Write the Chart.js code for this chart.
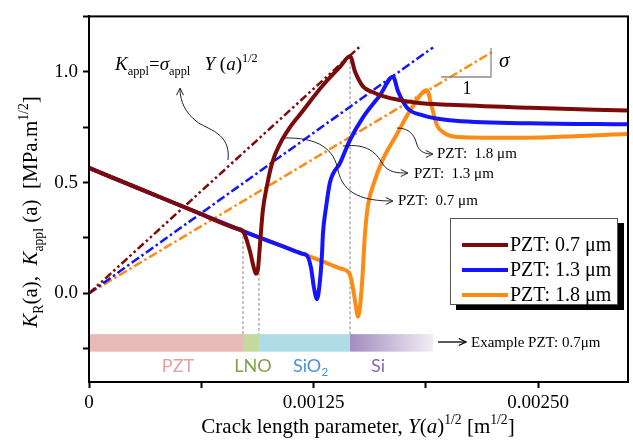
<!DOCTYPE html>
<html>
<head>
<meta charset="utf-8">
<script src="https://cdn.jsdelivr.net/npm/chart.js@4.4.0/dist/chart.umd.min.js"></script>
<style>
  body { margin: 0; background: #fff; }
  #wrap { width: 633px; height: 445px; }
</style>
</head>
<body>
<div id="wrap"><canvas id="crackChart" width="633" height="445"></canvas></div>
<script>
// K_R curves (x in m^1/2, y in MPa.m^1/2)
const redX = [0, 0.0003, 0.0006, 0.00082, 0.000857, 0.000896, 0.000918, 0.000930, 0.000941, 0.000952, 0.000968, 0.000991, 0.001019, 0.001063, 0.001119, 0.001174, 0.001302, 0.001397, 0.001453, 0.001481, 0.001525, 0.001581, 0.001636, 0.001826, 0.002009, 0.002455, 0.003];
const redY = [0.566, 0.466, 0.366, 0.293, 0.281, 0.189, 0.114, 0.088, 0.114, 0.224, 0.377, 0.487, 0.588, 0.675, 0.750, 0.807, 0.939, 1.022, 1.070, 1.000, 0.934, 0.908, 0.890, 0.860, 0.851, 0.838, 0.825];

const blueX = [0, 0.0003, 0.0006, 0.00082, 0.000857, 0.00095, 0.00105, 0.00115, 0.00119, 0.001213, 0.001236, 0.001252, 0.001269, 0.001286, 0.001297, 0.001302, 0.001319, 0.001341, 0.001397, 0.001453, 0.001525, 0.001620, 0.001692, 0.001720, 0.001770, 0.001859, 0.002009, 0.002455, 0.003];
const blueY = [0.566, 0.466, 0.366, 0.293, 0.281, 0.252, 0.221, 0.190, 0.178, 0.171, 0.114, 0.026, -0.026, 0.061, 0.180, 0.268, 0.386, 0.500, 0.588, 0.693, 0.794, 0.895, 0.978, 0.912, 0.838, 0.803, 0.781, 0.768, 0.763];

const orangeX = [0, 0.0003, 0.0006, 0.00082, 0.000857, 0.00095, 0.00105, 0.00115, 0.001213, 0.0013, 0.0014, 0.001436, 0.001453, 0.001469, 0.001486, 0.001497, 0.001508, 0.001520, 0.001536, 0.001553, 0.001581, 0.001636, 0.001714, 0.001787, 0.001881, 0.001909, 0.001937, 0.001970, 0.002048, 0.002399, 0.003];
const orangeY = [0.566, 0.466, 0.366, 0.293, 0.281, 0.252, 0.221, 0.190, 0.171, 0.144, 0.112, 0.101, 0.083, 0.026, -0.061, -0.105, -0.061, 0.048, 0.268, 0.399, 0.487, 0.605, 0.719, 0.825, 0.917, 0.838, 0.759, 0.728, 0.706, 0.702, 0.719];

// K_appl straight lines (start at origin)
const redApplX = [0, 0.001508];
const redApplY = [0, 1.114];
const blueApplX = [0, 0.001915];
const blueApplY = [0, 1.110];
const orangeApplX = [0, 0.002249];
const orangeApplY = [0, 1.092];

// layer stack for the 0.7 um example
const layerNames = ['PZT', 'LNO', 'SiO2', 'Si'];
const layerEdges = [0, 0.000857, 0.000946, 0.001453, 0.001915];
const layerBand = [-0.184, -0.263];
const interfaceTops = [0.281, 0.16, 1.07];

const seriesNames = ['PZT: 0.7 μm', 'PZT: 1.3 μm', 'PZT: 1.8 μm'];
const xTicksMajor = [0, 0.00125, 0.0025];
const yTicksMajor = [0, 0.5, 1.0];

const RED = '#7d0a0a';
const BLUE = '#1414ff';
const ORANGE = '#ff8a14';
const SERIF = '"Liberation Serif", "Times New Roman", serif';

function pts(xs, ys) {
    return xs.map((x, i) => ({ x: x, y: ys[i] }));
}

const solid = (label, data, color) => ({
    label: label, data: data, borderColor: color, borderWidth: 4,
    showLine: true, pointRadius: 0, cubicInterpolationMode: 'monotone', fill: false
});
const applLine = (data, color, dash) => ({
    label: '', data: data, borderColor: color, borderWidth: 2.5, borderDash: dash,
    showLine: true, pointRadius: 0, fill: false
});

const datasets = [
    solid(seriesNames[0], pts(redX, redY), RED),
    solid(seriesNames[1], pts(blueX, blueY), BLUE),
    solid(seriesNames[2], pts(orangeX, orangeY), ORANGE),
    applLine(pts(redApplX, redApplY), RED, [8, 3, 2.5, 3, 2.5, 3]),
    applLine(pts(blueApplX, blueApplY), BLUE, [9, 3, 2.5, 3]),
    applLine(pts(orangeApplX, orangeApplY), ORANGE, [9, 3, 2.5, 3])
];
// gray dashed interface markers
interfaceTops.forEach((top, i) => {
    datasets.push({
        label: '', data: [{ x: layerEdges[i + 1], y: top }, { x: layerEdges[i + 1], y: layerBand[0] }],
        borderColor: '#8a8a8a', borderWidth: 1, borderDash: [3, 2],
        showLine: true, pointRadius: 0, order: 10
    });
});

// draws text with italic / subscript / superscript pieces
function richText(ctx, segs, x, y, size, align) {
    const fontFor = (s) => {
        const sz = (s[1].includes('b') || s[1].includes('p')) ? size * 0.65 : size;
        return (s[1].includes('i') ? 'italic ' : '') + sz + 'px ' + SERIF;
    };
    let total = 0;
    segs.forEach(s => { ctx.font = fontFor(s); total += ctx.measureText(s[0]).width; });
    let cx = align === 'center' ? x - total / 2 : x;
    ctx.textAlign = 'left';
    ctx.textBaseline = 'alphabetic';
    segs.forEach(s => {
        ctx.font = fontFor(s);
        let dy = 0;
        if (s[1].includes('b')) dy = size * 0.28;
        if (s[1].includes('p')) dy = -size * 0.42;
        ctx.fillText(s[0], cx, y + dy);
        cx += ctx.measureText(s[0]).width;
    });
}

function arrowHead(ctx, x, y, angle) {
    const len = 8, spread = 0.45;
    ctx.beginPath();
    ctx.moveTo(x - len * Math.cos(angle - spread), y - len * Math.sin(angle - spread));
    ctx.lineTo(x, y);
    ctx.lineTo(x - len * Math.cos(angle + spread), y - len * Math.sin(angle + spread));
    ctx.stroke();
}

const decorPlugin = {
    id: 'decor',
    beforeDatasetsDraw(chart) {
        const ctx = chart.ctx;
        const xs = chart.scales.x, ys = chart.scales.y;
        const yTop = ys.getPixelForValue(layerBand[0]);
        const yBot = ys.getPixelForValue(layerBand[1]);
        const fills = ['#e8b9b9', '#c6d99c', '#afdce6', null];
        ctx.save();
        for (let i = 0; i < layerNames.length; i++) {
            const x0 = xs.getPixelForValue(layerEdges[i]);
            const x1 = xs.getPixelForValue(layerEdges[i + 1]);
            if (fills[i]) {
                ctx.fillStyle = fills[i];
            } else {
                const g = ctx.createLinearGradient(x0, 0, x1, 0);
                g.addColorStop(0, '#a38cbf');
                g.addColorStop(1, '#f1edf6');
                ctx.fillStyle = g;
            }
            ctx.fillRect(x0, yTop, x1 - x0, yBot - yTop);
        }
        // layer labels
        ctx.font = '18px Lato, "Open Sans", sans-serif';
        ctx.textBaseline = 'middle';
        ctx.textAlign = 'center';
        ctx.fillStyle = '#e3a2a2';
        ctx.fillText('PZT', 178, 366);
        ctx.fillStyle = '#82a146';
        ctx.fillText('LNO', 253, 366);
        ctx.fillStyle = '#4b92dc';
        ctx.textAlign = 'left';
        ctx.fillText('SiO', 293, 366);
        const w = ctx.measureText('SiO').width;
        ctx.font = '12px Lato, "Open Sans", sans-serif';
        ctx.fillText('2', 293 + w, 372);
        ctx.font = '18px Lato, "Open Sans", sans-serif';
        ctx.textAlign = 'center';
        ctx.fillStyle = '#8a6aa8';
        ctx.fillText('Si', 378, 366);
        ctx.restore();
    },
    afterDraw(chart) {
        const ctx = chart.ctx;
        const a = chart.chartArea;
        ctx.save();
        // frame
        ctx.strokeStyle = '#000';
        ctx.lineWidth = 2;
        ctx.strokeRect(a.left, a.top, a.right - a.left, a.bottom - a.top);

        ctx.fillStyle = '#000';
        // K_appl formula
        richText(ctx, [['K', 'i'], ['appl', 'b'], ['=', ''], ['σ', 'i'], ['appl', 'b'], ['   ', ''],
            ['Y', 'i'], [' (', ''], ['a', 'i'], [')', ''], ['1/2', 'p']], 115, 70, 19, 'left');

        // curved pointers
        ctx.strokeStyle = '#222';
        ctx.lineWidth = 1;
        ctx.beginPath();
        ctx.moveTo(228, 160);
        ctx.bezierCurveTo(231, 132, 207, 130, 196, 121);
        ctx.bezierCurveTo(186, 113, 180, 102, 180, 89);
        ctx.stroke();
        arrowHead(ctx, 180, 88, -Math.PI / 2);

        ctx.beginPath();
        ctx.moveTo(283, 138);
        ctx.bezierCurveTo(320, 137, 334, 150, 338, 170);
        ctx.bezierCurveTo(343, 195, 365, 201, 392, 201);
        ctx.stroke();
        arrowHead(ctx, 393, 201, 0);

        ctx.beginPath();
        ctx.moveTo(343, 146);
        ctx.bezierCurveTo(368, 143, 377, 154, 382, 163);
        ctx.bezierCurveTo(388, 173, 398, 173, 407, 173);
        ctx.stroke();
        arrowHead(ctx, 408, 173, 0);

        ctx.beginPath();
        ctx.moveTo(397, 128);
        ctx.bezierCurveTo(411, 128, 415, 137, 417, 145);
        ctx.bezierCurveTo(420, 153, 427, 154, 432, 154);
        ctx.stroke();
        arrowHead(ctx, 433, 154, 0);

        ctx.font = '15px ' + SERIF;
        ctx.textAlign = 'left';
        ctx.textBaseline = 'middle';
        ctx.fillText('PZT:  1.8 μm', 437, 154);
        ctx.fillText('PZT:  1.3 μm', 414, 174);
        ctx.fillText('PZT:  0.7 μm', 398, 201);

        // slope triangle
        ctx.strokeStyle = '#8c8c8c';
        ctx.lineWidth = 1.3;
        ctx.beginPath();
        ctx.moveTo(441, 77);
        ctx.lineTo(491, 77);
        ctx.lineTo(491, 48);
        ctx.stroke();
        ctx.fillStyle = '#000';
        ctx.font = 'italic 21px ' + SERIF;
        ctx.fillText('σ', 499, 61);
        ctx.font = '18px ' + SERIF;
        ctx.textAlign = 'center';
        ctx.fillText('1', 467, 89);

        // example arrow
        ctx.strokeStyle = '#000';
        ctx.lineWidth = 1.3;
        ctx.beginPath();
        ctx.moveTo(438, 342);
        ctx.lineTo(465, 342);
        ctx.stroke();
        arrowHead(ctx, 466, 342, 0);
        ctx.font = '15px ' + SERIF;
        ctx.textAlign = 'left';
        ctx.fillText('Example PZT: 0.7μm', 471, 343);

        // legend with shadow
        const lx = 450, ly = 218, lw = 168, lh = 87;
        ctx.fillStyle = '#000';
        ctx.fillRect(lx + 6, ly + 5, lw, lh);
        ctx.fillStyle = '#fff';
        ctx.fillRect(lx, ly, lw, lh);
        ctx.strokeStyle = '#555';
        ctx.lineWidth = 1;
        ctx.strokeRect(lx + 0.5, ly + 0.5, lw - 1, lh - 1);
        [RED, BLUE, ORANGE].forEach((c, i) => {
            const yy = 245 + i * 25;
            ctx.strokeStyle = c;
            ctx.lineWidth = 4;
            ctx.beginPath();
            ctx.moveTo(462, yy);
            ctx.lineTo(508, yy);
            ctx.stroke();
            ctx.fillStyle = '#000';
            ctx.font = '20px ' + SERIF;
            ctx.textBaseline = 'middle';
            ctx.fillText(seriesNames[i], 510, yy + 1);
        });

        // axis titles
        ctx.fillStyle = '#000';
        richText(ctx, [['Crack length parameter, ', ''], ['Y', 'i'], ['(', ''], ['a', 'i'], [')', ''],
            ['1/2', 'p'], [' [m', ''], ['1/2', 'p'], [']', '']], 358, 433, 21, 'center');
        ctx.translate(37, 212);
        ctx.rotate(-Math.PI / 2);
        richText(ctx, [['K', 'i'], ['R', 'b'], ['(a),  ', ''], ['K', 'i'], ['appl', 'b'],
            [' (a)  [MPa.m', ''], ['1/2', 'p'], [']', '']], 0, 0, 21, 'center');
        ctx.restore();
    }
};

const isMajor = (v, list) => list.some(m => Math.abs(v - m) < 1e-9);

new Chart(document.getElementById('crackChart').getContext('2d'), {
    type: 'scatter',
    data: { datasets: datasets },
    options: {
        responsive: false,
        animation: false,
        layout: { padding: { top: 6, right: 5, left: 0, bottom: 0 } },
        plugins: { legend: { display: false }, tooltip: { enabled: false } },
        scales: {
            x: {
                type: 'linear', min: 0, max: 0.003,
                afterFit: s => { s.height = 63; },
                ticks: {
                    stepSize: 0.000625, includeBounds: false, autoSkip: false, maxRotation: 0,
                    color: '#000', font: { family: SERIF, size: 19 }, padding: 4,
                    callback: v => isMajor(v, xTicksMajor) ? (v === 0 ? '0' : v.toFixed(5)) : ''
                },
                grid: { drawOnChartArea: false, tickLength: 6, tickColor: '#000', tickWidth: 2 },
                border: { color: '#000', width: 2 }
            },
            y: {
                type: 'linear', min: -0.4, max: 1.25,
                afterFit: s => { s.width = 89; },
                ticks: {
                    stepSize: 0.25, includeBounds: false, autoSkip: false,
                    color: '#000', font: { family: SERIF, size: 19 }, padding: 5,
                    callback: v => isMajor(v, yTicksMajor) ? v.toFixed(1) : ''
                },
                grid: { drawOnChartArea: false, tickLength: 6, tickColor: '#000', tickWidth: 2 },
                border: { color: '#000', width: 2 }
            }
        }
    },
    plugins: [decorPlugin]
});
</script>
</body>
</html>
